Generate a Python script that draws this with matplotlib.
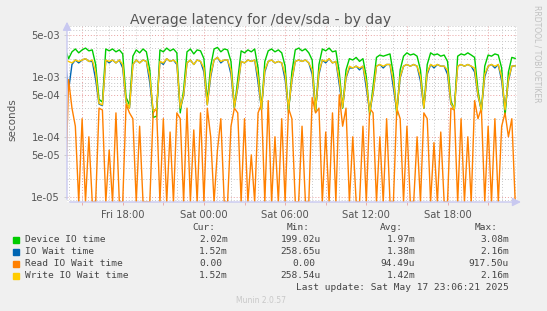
import numpy as np
import pandas as pd
import matplotlib
matplotlib.use("Agg")
import matplotlib.pyplot as plt
import matplotlib.dates as mdates
from matplotlib.patches import Rectangle
from matplotlib.ticker import FixedLocator, NullFormatter

# 15 minute samples, Fri 13:45 .. Sat 23:00
times = pd.date_range("2025-05-16 13:45", periods=134, freq="15min")

device_io = [
    2.9e-3, 2.0e-3, 2.6e-3, 2.9e-3, 2.5e-3, 2.8e-3, 3.0e-3, 2.7e-3,
    2.8e-3, 1.6e-3, 4.2e-4, 3.8e-4, 2.9e-3, 2.7e-3, 2.9e-3, 2.6e-3,
    2.8e-3, 2.4e-3, 4.5e-4, 3.4e-4, 2.2e-3, 2.8e-3, 2.5e-3, 2.9e-3,
    2.6e-3, 1.3e-3, 2.1e-4, 2.2e-4, 2.8e-3, 2.6e-3, 3.0e-3, 2.7e-3,
    2.9e-3, 2.5e-3, 2.5e-4, 6.0e-4, 2.6e-3, 2.9e-3, 2.4e-3, 2.8e-3,
    2.7e-3, 2.0e-3, 3.8e-4, 1.5e-3, 2.9e-3, 3.08e-3, 2.6e-3, 2.9e-3,
    2.8e-3, 1.8e-3, 3.0e-4, 9.0e-4, 2.7e-3, 2.5e-3, 2.8e-3, 2.6e-3,
    2.9e-3, 1.4e-3, 2.8e-4, 1.8e-3, 2.7e-3, 2.9e-3, 2.6e-3, 2.8e-3,
    2.5e-3, 1.5e-3, 2.5e-4, 1.2e-3, 2.8e-3, 3.0e-3, 2.7e-3, 2.9e-3,
    2.5e-3, 1.9e-3, 2.6e-4, 1.6e-3, 2.9e-3, 2.7e-3, 3.0e-3, 2.6e-3,
    2.7e-3, 1.2e-3, 3.0e-4, 1.3e-3, 2.0e-3, 1.9e-3, 2.1e-3, 1.8e-3,
    2.0e-3, 1.0e-3, 2.3e-4, 7.0e-4, 2.1e-3, 2.3e-3, 2.2e-3, 2.3e-3,
    2.4e-3, 1.1e-3, 2.3e-4, 1.3e-3, 2.2e-3, 2.5e-3, 2.3e-3, 2.4e-3,
    2.2e-3, 1.3e-3, 3.0e-4, 1.6e-3, 2.5e-3, 2.3e-3, 2.4e-3, 2.2e-3,
    2.3e-3, 1.8e-3, 4.0e-4, 2.8e-4, 2.2e-3, 2.4e-3, 2.3e-3, 2.5e-3,
    2.3e-3, 2.1e-3, 6.0e-4, 2.6e-4, 1.5e-3, 2.3e-3, 2.2e-3, 2.4e-3,
    2.3e-3, 1.4e-3, 2.2e-4, 1.2e-3, 2.1e-3, 2.02e-3,
]

write_wait = [
    1.9e-3, 1.8e-3, 1.7e-3, 1.9e-3, 1.8e-3, 1.9e-3, 2.0e-3, 1.8e-3,
    1.9e-3, 1.2e-3, 3.6e-4, 3.4e-4, 1.9e-3, 1.8e-3, 1.9e-3, 1.7e-3,
    1.9e-3, 1.6e-3, 3.8e-4, 3.0e-4, 1.6e-3, 1.9e-3, 1.7e-3, 1.9e-3,
    1.8e-3, 1.0e-3, 2.7e-4, 2.9e-4, 1.8e-3, 1.7e-3, 2.0e-3, 1.8e-3,
    1.9e-3, 1.7e-3, 3.0e-4, 5.0e-4, 1.7e-3, 1.9e-3, 1.6e-3, 1.9e-3,
    1.8e-3, 1.4e-3, 3.4e-4, 1.1e-3, 1.9e-3, 2.1e-3, 1.8e-3, 1.9e-3,
    1.9e-3, 1.3e-3, 3.1e-4, 7.0e-4, 1.8e-3, 1.7e-3, 1.9e-3, 1.8e-3,
    1.9e-3, 1.0e-3, 2.9e-4, 1.3e-3, 1.8e-3, 1.9e-3, 1.7e-3, 1.8e-3,
    1.7e-3, 1.1e-3, 2.9e-4, 9.0e-4, 1.8e-3, 1.9e-3, 1.8e-3, 1.9e-3,
    1.7e-3, 1.3e-3, 2.8e-4, 1.2e-3, 1.9e-3, 1.8e-3, 2.0e-3, 1.7e-3,
    1.8e-3, 9.0e-4, 3.1e-4, 1.0e-3, 1.5e-3, 1.4e-3, 1.5e-3, 1.4e-3,
    1.5e-3, 8.0e-4, 2.6e-4, 5.5e-4, 1.5e-3, 1.6e-3, 1.5e-3, 1.6e-3,
    1.6e-3, 8.5e-4, 2.7e-4, 1.0e-3, 1.5e-3, 1.6e-3, 1.5e-3, 1.6e-3,
    1.5e-3, 1.0e-3, 3.0e-4, 1.2e-3, 1.6e-3, 1.5e-3, 1.6e-3, 1.5e-3,
    1.5e-3, 1.3e-3, 3.6e-4, 2.9e-4, 1.5e-3, 1.6e-3, 1.5e-3, 1.6e-3,
    1.5e-3, 1.4e-3, 5.0e-4, 2.8e-4, 1.1e-3, 1.5e-3, 1.6e-3, 1.5e-3,
    1.6e-3, 1.0e-3, 2.8e-4, 9.0e-4, 1.5e-3, 1.52e-3,
]

io_wait = [
    1.9e-3, 6.0e-4, 1.6e-3, 1.9e-3, 1.7e-3, 1.9e-3, 2.0e-3, 1.8e-3,
    1.8e-3, 9.0e-4, 3.5e-4, 3.3e-4, 1.9e-3, 1.7e-3, 1.9e-3, 1.7e-3,
    1.9e-3, 1.4e-3, 3.7e-4, 3.0e-4, 1.6e-3, 1.9e-3, 1.7e-3, 1.9e-3,
    1.8e-3, 8.0e-4, 2.7e-4, 2.9e-4, 1.8e-3, 1.6e-3, 2.0e-3, 1.8e-3,
    1.9e-3, 1.6e-3, 3.0e-4, 4.8e-4, 1.7e-3, 1.9e-3, 1.6e-3, 1.9e-3,
    1.8e-3, 1.2e-3, 3.4e-4, 1.0e-3, 1.9e-3, 2.1e-3, 1.7e-3, 1.9e-3,
    1.9e-3, 1.1e-3, 3.1e-4, 6.5e-4, 1.8e-3, 1.7e-3, 1.9e-3, 1.8e-3,
    1.9e-3, 8.0e-4, 2.9e-4, 1.2e-3, 1.8e-3, 1.9e-3, 1.7e-3, 1.8e-3,
    1.7e-3, 9.0e-4, 2.9e-4, 8.5e-4, 1.8e-3, 1.9e-3, 1.8e-3, 1.9e-3,
    1.7e-3, 1.1e-3, 2.8e-4, 1.1e-3, 1.9e-3, 1.7e-3, 2.0e-3, 1.7e-3,
    1.8e-3, 7.5e-4, 3.1e-4, 9.5e-4, 1.4e-3, 1.4e-3, 1.5e-3, 1.3e-3,
    1.5e-3, 6.5e-4, 2.6e-4, 5.2e-4, 1.5e-3, 1.6e-3, 1.4e-3, 1.6e-3,
    1.6e-3, 6.5e-4, 2.7e-4, 9.5e-4, 1.5e-3, 1.6e-3, 1.5e-3, 1.6e-3,
    1.5e-3, 8.5e-4, 3.0e-4, 1.1e-3, 1.6e-3, 1.4e-3, 1.6e-3, 1.5e-3,
    1.5e-3, 1.1e-3, 3.5e-4, 2.9e-4, 1.5e-3, 1.6e-3, 1.5e-3, 1.6e-3,
    1.5e-3, 1.2e-3, 4.8e-4, 2.8e-4, 1.0e-3, 1.5e-3, 1.6e-3, 1.4e-3,
    1.6e-3, 8.5e-4, 2.8e-4, 8.5e-4, 1.5e-3, 1.52e-3,
]

read_wait = [
    0, 9.0e-4, 3.0e-4, 1.5e-4, 0, 2.0e-4, 0, 1.0e-4,
    0, 0, 3.0e-4, 2.8e-4, 0, 6.0e-5, 0, 2.5e-4,
    0, 0, 3.5e-4, 2.5e-4, 2.0e-4, 0, 1.5e-4, 0,
    0, 0, 2.5e-4, 3.0e-4, 0, 2.0e-4, 0, 1.2e-4,
    0, 2.5e-4, 2.0e-4, 0, 3.0e-4, 0, 1.3e-4, 0,
    2.5e-4, 0, 3.0e-4, 1.0e-4, 0, 6.0e-5, 2.0e-4, 0,
    0, 1.5e-4, 3.0e-4, 2.5e-4, 0, 2.0e-4, 0, 5.0e-5,
    0, 2.5e-4, 3.5e-4, 0, 4.0e-4, 0, 1.0e-4, 0,
    2.0e-4, 0, 3.0e-4, 2.0e-4, 0, 0, 1.5e-4, 0,
    0, 4.5e-4, 2.5e-4, 3.0e-4, 0, 1.2e-4, 0, 2.5e-4,
    0, 5.0e-4, 1.5e-4, 3.0e-4, 0, 1.0e-4, 0, 0,
    1.5e-4, 0, 3.0e-4, 2.5e-4, 0, 1.0e-4, 0, 2.0e-4,
    0, 0, 3.0e-4, 2.0e-4, 0, 1.5e-4, 0, 0,
    1.0e-4, 0, 2.5e-4, 2.0e-4, 0, 8.0e-5, 0, 1.2e-4,
    0, 0, 3.0e-4, 2.8e-4, 0, 2.0e-4, 0, 1.0e-4,
    0, 4.0e-4, 2.0e-4, 3.0e-4, 0, 1.5e-4, 0, 2.0e-4,
    0, 1.5e-4, 2.5e-4, 1.0e-4, 2.0e-4, 0,
]

labels = ["Device IO time", "IO Wait time", "Read IO Wait time", "Write IO Wait time"]
colors = ["#00cc00", "#0066b3", "#ff8000", "#ffcc00"]
cur = ["2.02m", "1.52m", "0.00", "1.52m"]
mins = ["199.02u", "258.65u", "0.00", "258.54u"]
avgs = ["1.97m", "1.38m", "94.49u", "1.42m"]
maxs = ["3.08m", "2.16m", "917.50u", "2.16m"]
ytick_vals = [1e-5, 5e-5, 1e-4, 5e-4, 1e-3, 5e-3]

W, H = 547, 311
ymin, ymax = 8.2e-6, 7.0e-3

fig = plt.figure(figsize=(W / 100, H / 100), dpi=100, facecolor="#f0f0f0")
ax = fig.add_axes([67 / W, 1 - 202 / H, 450 / W, 176 / H])
ax.set_facecolor("white")

series = [device_io, io_wait, read_wait, write_wait]
for vals, c in zip(series, colors):
    y = np.maximum(np.array(vals, dtype=float), ymin)
    ax.plot(times, y, color=c, lw=1.0, solid_joinstyle="round")

ax.set_yscale("log")
ax.set_ylim(ymin, ymax)
ax.set_xlim(pd.Timestamp("2025-05-16 13:53"), pd.Timestamp("2025-05-17 23:08"))

ax.yaxis.set_major_locator(FixedLocator(ytick_vals))
ax.set_yticklabels(["{:.0e}".format(v) for v in ytick_vals])
minor_y = [m * 10.0 ** e for e in range(-6, -2) for m in (2, 3, 4, 6, 7, 8, 9)]
ax.yaxis.set_minor_locator(FixedLocator(minor_y))
ax.yaxis.set_minor_formatter(NullFormatter())

ax.xaxis.set_major_locator(mdates.HourLocator(byhour=range(0, 24, 3)))
ax.xaxis.set_minor_locator(mdates.HourLocator())


def xfmt(x, pos):
    d = mdates.num2date(x)
    if d.hour % 6 == 0:
        return d.strftime("%a %H:%M")
    return ""


ax.xaxis.set_major_formatter(plt.FuncFormatter(xfmt))

ax.grid(which="major", color="#e8a0a0", linestyle=(0, (1, 2)), lw=0.7)
ax.grid(which="minor", color="#c8c8c8", linestyle=(0, (1, 2)), lw=0.7)
ax.set_axisbelow(True)

for s in ax.spines.values():
    s.set_visible(False)
ax.tick_params(axis="both", which="major", labelsize=7.2, colors="#555555",
               length=2, width=0.6)
ax.tick_params(axis="x", which="major", color="#e8a0a0", pad=4)
ax.tick_params(axis="y", which="major", color="#c8c8c8", pad=3)
ax.tick_params(which="minor", length=0)

# rrdtool style axis arrows
arrow = dict(arrowstyle="-|>,head_width=0.25,head_length=0.5", color="#c8c8f0", lw=1.0)
ax.annotate("", xy=(0, 1.04), xytext=(0, 0), xycoords="axes fraction",
            arrowprops=arrow, annotation_clip=False)
ax.annotate("", xy=(1.015, 0), xytext=(0, 0), xycoords="axes fraction",
            arrowprops=arrow, annotation_clip=False)

fig.text(261 / W, 1 - 20 / H, "Average latency for /dev/sda - by day",
         ha="center", va="center", fontsize=10, color="#555555")
fig.text(12 / W, 1 - 120 / H, "seconds", rotation=90, ha="center", va="center",
         fontsize=7.5, color="#555555")
fig.text(537 / W, 1 - 5 / H, "RRDTOOL / TOBI OETIKER", rotation=270,
         ha="center", va="top", fontsize=5.5, color="#c0c0c0")

# legend table
mono = dict(family="DejaVu Sans Mono", fontsize=6.8, color="#444444", va="center")
cw = 5.7
col_right = [227.7, 321, 415.3, 509]
head_right = [215, 310, 403.3, 497.3]
for h, xr in zip(["Cur:", "Min:", "Avg:", "Max:"], head_right):
    fig.text(xr / W, 1 - 227.3 / H, h, ha="right", **mono)

row_y = [240, 251.7, 263.7, 275.7]
for i, lab in enumerate(labels):
    yy = 1 - row_y[i] / H
    fig.patches.append(Rectangle((13 / W, yy - 3 / H), 6 / W, 6 / H,
                                 transform=fig.transFigure, color=colors[i]))
    fig.text(25 / W, yy, lab, ha="left", **mono)
    for v, xr in zip([cur[i], mins[i], avgs[i], maxs[i]], col_right):
        shift = 0 if v[-1] in "mu" else cw
        fig.text((xr - shift) / W, yy, v, ha="right", **mono)

fig.text(509 / W, 1 - 288 / H, "Last update: Sat May 17 23:06:21 2025",
         ha="right", **mono)
fig.text(261 / W, 1 - 300.3 / H, "Munin 2.0.57", ha="center", va="center",
         fontsize=5.5, color="#c8c8c8")

fig.savefig("out.png", dpi=100, facecolor=fig.get_facecolor())
